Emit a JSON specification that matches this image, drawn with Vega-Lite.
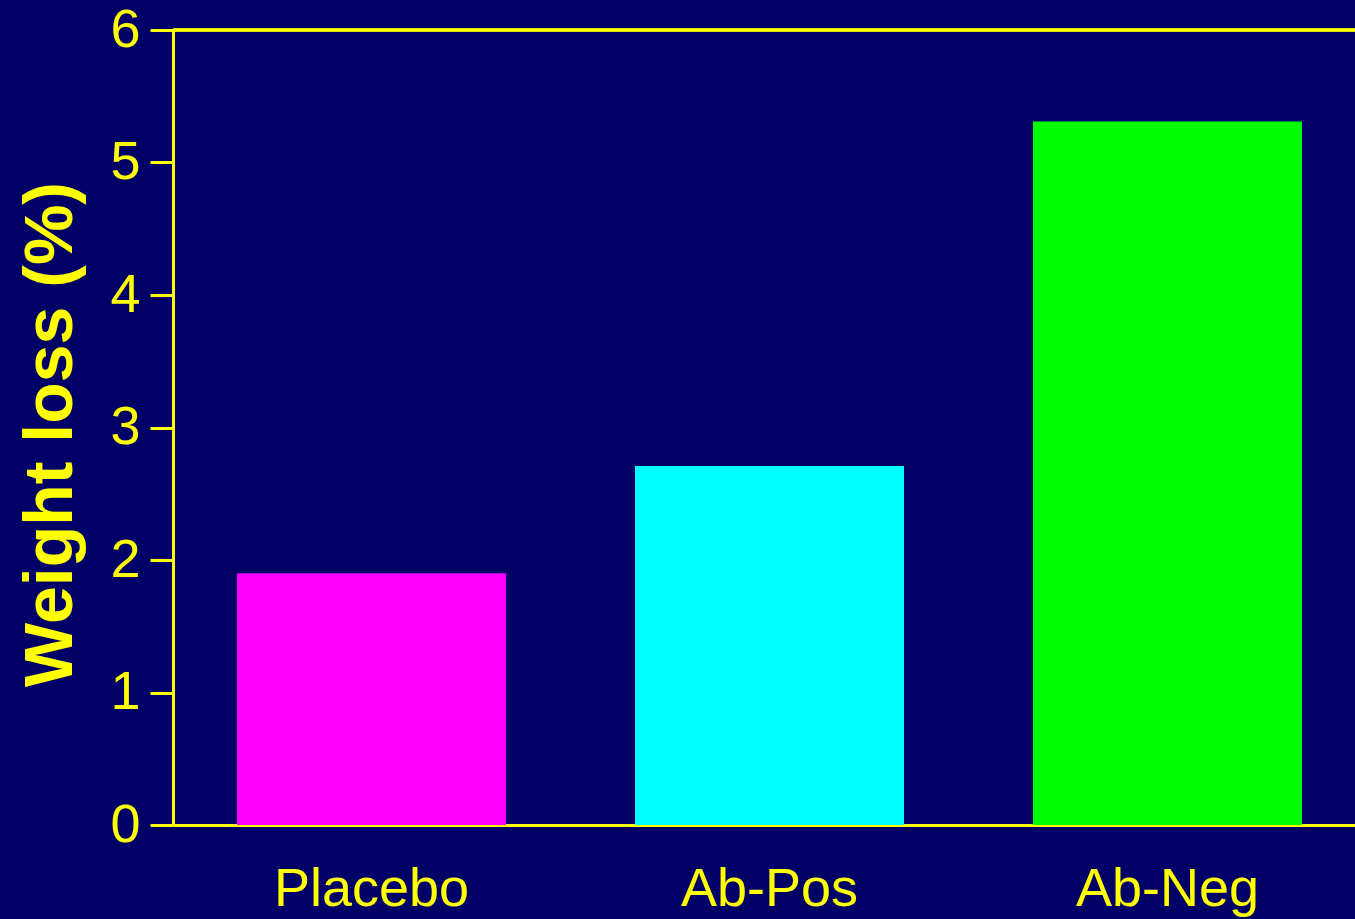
{
  "$schema": "https://vega.github.io/schema/vega-lite/v6.json",
  "autosize": "none",
  "width": 1182,
  "height": 795,
  "padding": {"left": 173, "top": 30, "right": 0, "bottom": 94},
  "background": "#000066",
  "config": {
    "view": {"stroke": null},
    "font": "Liberation Sans"
  },
  "data": {
    "values": [
      {"group": "Placebo", "loss": 1.9},
      {"group": "Ab-Pos", "loss": 2.71},
      {"group": "Ab-Neg", "loss": 5.31}
    ]
  },
  "layer": [
    {
      "mark": {"type": "bar"},
      "encoding": {
        "x": {
          "field": "group",
          "type": "nominal",
          "sort": null,
          "scale": {"paddingInner": 0.324, "paddingOuter": 0.161, "range": [0, 1193]},
          "axis": {
            "title": null,
            "labelAngle": 0,
            "labelFontSize": 54,
            "labelColor": "#FFFF00",
            "labelPadding": 37,
            "labelLimit": 0,
            "ticks": false,
            "domainColor": "#FFFF00",
            "domainWidth": 3
          }
        },
        "y": {
          "field": "loss",
          "type": "quantitative",
          "scale": {"domain": [0, 6], "nice": false},
          "axis": {
            "title": "Weight loss (%)",
            "titleFontSize": 68,
            "titleFontWeight": "bold",
            "titleColor": "#FFFF00",
            "titleX": -88,
            "titleY": 404,
            "values": [0, 1, 2, 3, 4, 5, 6],
            "format": "d",
            "labelFontSize": 54,
            "labelColor": "#FFFF00",
            "labelPadding": 10,
            "tickColor": "#FFFF00",
            "tickWidth": 3,
            "tickSize": 23,
            "domainColor": "#FFFF00",
            "domainWidth": 3,
            "grid": false
          }
        },
        "color": {
          "field": "group",
          "type": "nominal",
          "scale": {"domain": ["Placebo", "Ab-Pos", "Ab-Neg"], "range": ["#FF00FF", "#00FFFF", "#00FF00"]},
          "legend": null
        }
      }
    },
    {
      "mark": {"type": "rule", "color": "#FFFF00", "strokeWidth": 3},
      "encoding": {"y": {"datum": 6}}
    }
  ]
}
